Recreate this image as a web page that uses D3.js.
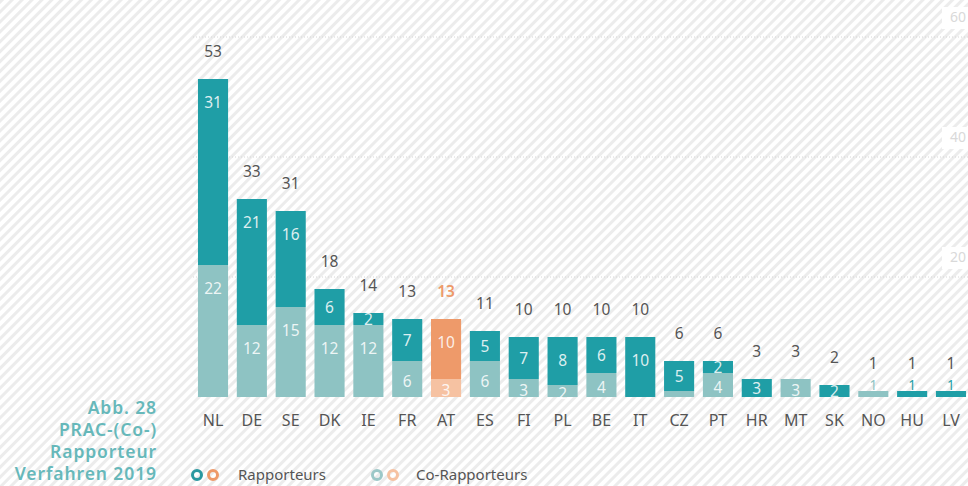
<!DOCTYPE html>
<html>
<head>
<meta charset="utf-8">
<script src="https://cdn.jsdelivr.net/npm/d3@7"></script>
<style>
  html, body { margin: 0; padding: 0; background: #fff; }
  svg { display: block; }
</style>
</head>
<body>
<svg id="chart" width="968" height="486"></svg>
<script>
// PRAC (Co-)Rapporteur procedures per member state, 2019
const countries      = ["NL","DE","SE","DK","IE","FR","AT","ES","FI","PL","BE","IT","CZ","PT","HR","MT","SK","NO","HU","LV"];
const rapporteurs    = [31, 21, 16, 6, 2, 7, 10, 5, 7, 8, 6, 10, 5, 2, 3, 0, 2, 0, 1, 1];
const coRapporteurs  = [22, 12, 15, 12, 12, 6, 3, 6, 3, 2, 4, 0, 1, 4, 0, 3, 0, 1, 0, 0];
const totals         = [53, 33, 31, 18, 14, 13, 13, 11, 10, 10, 10, 10, 6, 6, 3, 3, 2, 1, 1, 1];
const yTicks         = [20, 40, 60];
const highlighted    = "AT";
const captionLines   = ["Abb. 28", "PRAC-(Co-)", "Rapporteur", "Verfahren 2019"];
const legendLabels   = ["Rapporteurs", "Co-Rapporteurs"];

const colors = {
  rap: "#1f9ea6",
  co: "#8ec3c3",
  rapHi: "#ee9a6a",
  coHi: "#f6c2a2",
  text: "#555",
  caption: "#66b8ba"
};

const font = "'Noto Sans', 'Open Sans', sans-serif";
const svg = d3.select("#chart");
const W = 968, H = 486;

// diagonal hatched background
const defs = svg.append("defs");
const pat = defs.append("pattern")
  .attr("id", "hatch")
  .attr("patternUnits", "userSpaceOnUse")
  .attr("width", 7).attr("height", 7)
  .attr("patternTransform", "rotate(45)");
pat.append("rect").attr("width", 7).attr("height", 7).attr("fill", "#fff");
pat.append("rect").attr("width", 3).attr("height", 7).attr("fill", "#ececec");
svg.append("rect").attr("width", W).attr("height", H).attr("fill", "url(#hatch)");

const x = d3.scaleBand()
  .domain(countries)
  .range([193.6, 970.4])
  .paddingInner(0.225)
  .paddingOuter(0.1125);

const y = d3.scaleLinear().domain([0, 60]).range([397, 37]);

// gridlines + right-hand tick labels
const grid = svg.append("g");
yTicks.forEach(t => {
  grid.append("line")
    .attr("x1", 193).attr("x2", W)
    .attr("y1", y(t)).attr("y2", y(t))
    .attr("stroke", "#d6d6d6").attr("stroke-width", 1)
    .attr("stroke-dasharray", "1,2");
  grid.append("rect")
    .attr("x", 942).attr("y", y(t) - 30)
    .attr("width", 26).attr("height", 22)
    .attr("fill", "#fff");
  grid.append("text")
    .attr("x", 966).attr("y", y(t) - 15)
    .attr("text-anchor", "end")
    .attr("font-family", font).attr("font-size", 14)
    .attr("fill", "#d9d9d9")
    .text(t);
});

const rows = countries.map((c, i) => ({
  c, rap: rapporteurs[i], co: coRapporteurs[i], total: totals[i], hi: c === highlighted
}));

const bars = svg.append("g");
rows.forEach(d => {
  const bx = x(d.c), bw = x.bandwidth();
  const segs = [
    { v: d.co, y0: 0, y1: d.co, fill: d.hi ? colors.coHi : colors.co, shift: 2 },
    { v: d.rap, y0: d.co, y1: d.co + d.rap, fill: d.hi ? colors.rapHi : colors.rap, shift: 0 }
  ];
  segs.forEach(s => {
    if (s.v <= 0) return;
    const top = y(s.y1), bot = y(s.y0);
    bars.append("rect")
      .attr("x", bx).attr("y", top)
      .attr("width", bw).attr("height", bot - top)
      .attr("fill", s.fill);
    if (s.v >= 2) {
      const cy = Math.min(top + 23, (top + bot) / 2 + s.shift);
      bars.append("text")
        .attr("x", bx + bw / 2).attr("y", cy)
        .attr("dy", "0.36em")
        .attr("text-anchor", "middle")
        .attr("font-family", font).attr("font-size", 15.5)
        .attr("fill", "#fff").attr("fill-opacity", 0.85)
        .text(s.v);
    } else if (s.v === d.total) {
      // a single unit is too thin to hold its label: place it just above
      bars.append("text")
        .attr("x", bx + bw / 2).attr("y", top - 1)
        .attr("text-anchor", "middle")
        .attr("font-family", font).attr("font-size", 13.5)
        .attr("fill", s.fill)
        .text(s.v);
    }
  });
  // total above the stack
  bars.append("text")
    .attr("x", bx + bw / 2).attr("y", y(d.total) - 22)
    .attr("text-anchor", "middle")
    .attr("font-family", font).attr("font-size", 15.5)
    .attr("font-weight", d.hi ? 600 : 400)
    .attr("fill", d.hi ? colors.rapHi : colors.text)
    .text(d.total);
});

// category axis
const xAxis = svg.append("g")
  .attr("transform", "translate(0,397)")
  .call(d3.axisBottom(x).tickSize(0).tickPadding(18));
xAxis.select(".domain").remove();
xAxis.selectAll("text")
  .attr("font-family", font).attr("font-size", 16)
  .attr("fill", colors.text);

// caption
const cap = svg.append("text")
  .attr("text-anchor", "end")
  .attr("font-family", font).attr("font-size", 17.5)
  .attr("font-weight", 600)
  .attr("letter-spacing", 0.9)
  .attr("fill", colors.caption);
captionLines.forEach((l, i) => {
  cap.append("tspan").attr("x", 157).attr("y", 414 + i * 22).text(l);
});

// legend
const legend = svg.append("g");
const legendItems = [
  { label: legendLabels[0], c1: "#2a98a0", c2: colors.rapHi, x0: 197, tx: 238 },
  { label: legendLabels[1], c1: "#9cc8c8", c2: colors.coHi, x0: 377, tx: 416 }
];
legendItems.forEach(it => {
  [it.c1, it.c2].forEach((c, j) => {
    legend.append("circle")
      .attr("cx", it.x0 + j * 16).attr("cy", 475)
      .attr("r", 4.5).attr("fill", "none")
      .attr("stroke", c).attr("stroke-width", 3);
  });
  legend.append("text")
    .attr("x", it.tx).attr("y", 480)
    .attr("font-family", font).attr("font-size", 15)
    .attr("fill", colors.text)
    .text(it.label);
});
</script>
</body>
</html>
